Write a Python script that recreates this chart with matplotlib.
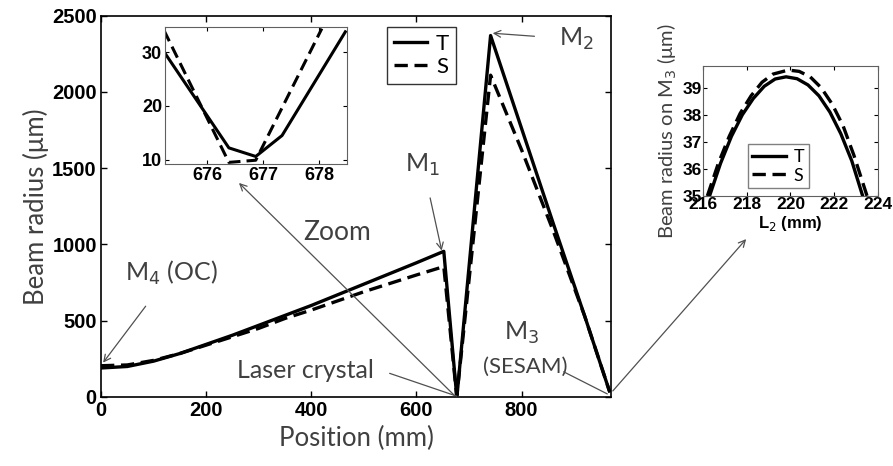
import numpy as np
import matplotlib
matplotlib.use("Agg")
import matplotlib.pyplot as plt
from matplotlib.font_manager import FontProperties
from matplotlib.patches import FancyArrowPatch

# main plot: beam radius along cavity (mm -> um)
pos_T = [0, 50, 100, 150, 200, 250, 300, 350, 400, 450, 500, 550, 600, 652,
         676.4, 676.9, 677.3, 741, 800, 860, 920, 967]
rad_T = [190, 200, 235, 285, 345, 405, 470, 535, 600, 670, 740, 810, 880, 955,
         12, 10.6, 14.5, 2370, 1760, 1140, 530, 39]
pos_S = [0, 50, 100, 150, 200, 250, 300, 350, 400, 450, 500, 550, 600, 652,
         676.4, 676.9, 741, 800, 860, 920, 967]
rad_S = [205, 210, 240, 285, 340, 395, 450, 515, 570, 630, 690, 745, 800, 855,
         9.5, 9.9, 2110, 1620, 1090, 530, 39]

# zoom near the laser crystal
zx_T = [675.25, 676.39, 676.87, 677.34, 678.47]
zy_T = [29.8, 12.2, 10.6, 14.5, 33.8]
zx_S = [675.23, 676.39, 676.87, 678.05]
zy_S = [34.1, 9.5, 9.9, 34.4]

# beam radius on M3 vs L2
l2_T = [216.3, 216.8, 217.3, 217.8, 218.3, 218.8, 219.3, 219.8, 220.3, 220.8,
        221.3, 221.8, 222.3, 222.8, 223.3]
m3_T = [35.0, 36.2, 37.2, 38.0, 38.6, 39.05, 39.32, 39.4, 39.33, 39.1,
        38.7, 38.1, 37.3, 36.3, 35.0]
l2_S = [216.2, 216.7, 217.2, 217.7, 218.2, 218.7, 219.2, 219.9, 220.4, 220.9,
        221.4, 221.9, 222.4, 222.9, 223.5]
m3_S = [35.0, 36.2, 37.2, 38.05, 38.7, 39.2, 39.5, 39.65, 39.6, 39.4,
        39.0, 38.4, 37.6, 36.5, 35.0]

tickfam = ["Liberation Sans", "DejaVu Sans"]
txtfont = ["Lato", "DejaVu Sans"]
grey = "#404040"
dash = (0, (4, 2))


def boldticks(a, size):
    for lab in a.get_xticklabels() + a.get_yticklabels():
        lab.set_fontproperties(FontProperties(family=tickfam, weight="bold", size=size))


fig = plt.figure(figsize=(8.93, 4.66), dpi=100)

ax = fig.add_axes([0.1131, 0.1481, 0.5711, 0.8182])
ax.plot(pos_T, rad_T, color="black", lw=2.4, label="T")
ax.plot(pos_S, rad_S, color="black", lw=2.4, ls=dash, label="S")
ax.set_xlim(0, 970)
ax.set_ylim(0, 2500)
ax.set_xticks([0, 200, 400, 600, 800])
ax.set_yticks([0, 500, 1000, 1500, 2000, 2500])
ax.tick_params(direction="in", length=4, top=True, right=True, width=1, pad=3)
boldticks(ax, 14.5)
for s in ax.spines.values():
    s.set_linewidth(1.2)
ax.set_xlabel("Position (mm)", family=txtfont, fontsize=18.5, color=grey, labelpad=4)
ax.set_ylabel("Beam radius (\u03bcm)", family=txtfont, fontsize=18.5, color=grey, labelpad=2)
leg = ax.legend(loc="upper left", bbox_to_anchor=(0.561, 0.970), fontsize=16,
                frameon=True, fancybox=False, edgecolor="black", handlelength=1.5,
                borderpad=0.3, labelspacing=0.15, handletextpad=0.4, borderaxespad=0)
leg.get_frame().set_linewidth(1.0)
for t in leg.get_texts():
    t.set_family(txtfont)

arr = dict(arrowstyle="->", color="#505050", lw=0.9, mutation_scale=12)
line = dict(arrowstyle="-", color="#505050", lw=0.9)

ax.annotate("M$_4$ (OC)", xy=(4, 225), xytext=(133, 815), family=txtfont, fontsize=18,
            color=grey, ha="center", va="center", arrowprops=dict(arr, shrinkA=15, shrinkB=0))
ax.annotate("M$_1$", xy=(648, 960), xytext=(612, 1525), family=txtfont, fontsize=18,
            color=grey, ha="center", va="center", arrowprops=dict(arr, shrinkA=13, shrinkB=0))
ax.annotate("M$_2$", xy=(745, 2385), xytext=(905, 2345), family=txtfont, fontsize=18,
            color=grey, ha="center", va="center", arrowprops=dict(arr, shrinkA=16, shrinkB=0))
ax.text(389, 175, "Laser crystal", family=txtfont, fontsize=18, color=grey,
        ha="center", va="center")
ax.annotate("", xy=(677, 5), xytext=(549, 155), arrowprops=dict(line, shrinkA=0, shrinkB=0))
ax.text(450, 1080, "Zoom", family=txtfont, fontsize=19, color=grey, ha="center", va="center")
ax.text(800, 420, "M$_3$", family=txtfont, fontsize=18, color=grey, ha="center", va="center")
ax.text(806, 200, "(SESAM)", family=txtfont, fontsize=16, color=grey, ha="center", va="center")
ax.annotate("", xy=(963, 20), xytext=(880, 165), arrowprops=dict(line, shrinkA=0, shrinkB=0))

# arrows from the curve to the insets (figure coords)
fig.add_artist(FancyArrowPatch((456 / 893, 1 - 397 / 466), (237 / 893, 1 - 181 / 466),
                               transform=fig.transFigure, **arr))
fig.add_artist(FancyArrowPatch((611 / 893, 1 - 393 / 466), (748 / 893, 1 - 237 / 466),
                               transform=fig.transFigure, **arr))

# inset: zoom on crystal
ax1 = fig.add_axes([0.1848, 0.6481, 0.2038, 0.294])
ax1.plot(zx_T, zy_T, color="black", lw=2.2)
ax1.plot(zx_S, zy_S, color="black", lw=2.2, ls=dash)
ax1.set_xlim(675.25, 678.5)
ax1.set_ylim(9.2, 34.7)
ax1.set_xticks([676, 677, 678])
ax1.set_yticks([10, 20, 30])
ax1.tick_params(direction="in", length=3, top=True, right=True, pad=2)
boldticks(ax1, 13)
for s in ax1.spines.values():
    s.set_color("#606060")

# inset: radius on M3
ax2 = fig.add_axes([0.7872, 0.5794, 0.196, 0.279])
ax2.plot(l2_T, m3_T, color="black", lw=2.4, label="T")
ax2.plot(l2_S, m3_S, color="black", lw=2.4, ls=dash, label="S")
ax2.set_xlim(216, 224)
ax2.set_ylim(35, 39.8)
ax2.set_xticks([216, 218, 220, 222, 224])
ax2.set_yticks([35, 36, 37, 38, 39])
ax2.tick_params(direction="in", length=3, top=True, right=True, pad=1)
boldticks(ax2, 12.5)
for s in ax2.spines.values():
    s.set_color("#606060")
ax2.set_xlabel("L$_2$ (mm)", fontproperties=FontProperties(family=tickfam, weight="bold", size=12),
               labelpad=1)
ax2.set_ylabel("Beam radius on M$_3$ (\u03bcm)", family=txtfont, fontsize=14.5, color=grey, labelpad=2)
leg2 = ax2.legend(loc="lower left", bbox_to_anchor=(0.255, 0.06), fontsize=13,
                  frameon=True, fancybox=False, edgecolor="#606060", handlelength=1.9,
                  borderpad=0.25, labelspacing=0.15, handletextpad=0.4, borderaxespad=0)
for t in leg2.get_texts():
    t.set_family(txtfont)

fig.savefig("out.png", dpi=100)
